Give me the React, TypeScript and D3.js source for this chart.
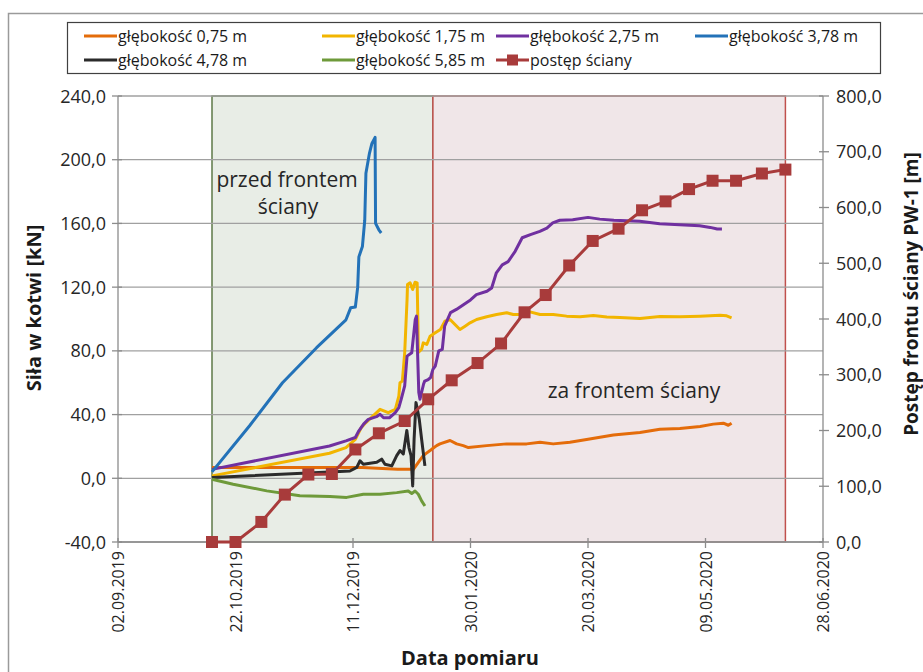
import React from "react";
import * as d3 from "d3";

// ---- DATA ----
// x positions: days since 02.09.2019 (measurement dates)
const START_DATE = "2019-09-02";
const xTickLabels = ["02.09.2019", "22.10.2019", "11.12.2019", "30.01.2020", "20.03.2020", "09.05.2020", "28.06.2020"];
const leftTicks = [-40, 0, 40, 80, 120, 160, 200, 240];
const rightTicks = [0, 100, 200, 300, 400, 500, 600, 700, 800];

const depth075: [number, number][] = [
  [40, 6.8], [97, 6.8], [104, 6.8], [119, 5.6], [125.7, 5.6], [127.8, 10], [129.9, 14.2], [131, 15.5], [132.8, 17.4],
  [134.2, 19], [135.6, 20.5], [137, 21.6], [141.3, 23.7], [144.1, 21.6], [146.9, 20.5], [149.1, 19.3], [156.9, 20.5],
  [165.4, 21.6], [173.9, 21.6], [179.6, 22.6], [185.2, 21.6], [192.3, 22.6], [199.4, 24.3], [205.1, 25.8], [210.8, 27.2],
  [222.1, 28.7], [230.6, 30.8], [239.1, 31.2], [247.7, 32.5], [253.3, 34], [257.6, 34.6], [259.7, 33.3], [261.1, 34.6],
];
const depth175: [number, number][] = [
  [40, 1.5], [90, 15.7], [97, 19.3], [101, 24.5], [103.5, 31.8], [105.5, 35], [111.5, 43.3], [115, 41.2], [118, 43.3],
  [119.5, 51.6], [120, 60], [121, 61], [122, 78.8], [123, 112], [123.2, 121.6], [124.3, 122.7], [125.4, 118.5],
  [126.4, 123.1], [127.3, 122.7], [127.6, 99.7], [127.8, 79], [129.2, 81], [129.9, 85], [131.4, 84], [132.8, 89.2],
  [135, 91.3], [137.2, 93.4], [139.1, 98.6], [141.3, 99.7], [143.4, 96.5], [145.5, 93.4], [147.7, 95.5], [149.8, 97.6],
  [152.6, 99.7], [156.9, 101.4], [161.1, 102.8], [165.4, 103.9], [168.2, 102.8], [171.1, 102.8], [175.3, 104.5],
  [179.6, 102.8], [185.2, 102.8], [190.9, 101.8], [196.6, 101.4], [202.3, 102.2], [208, 101.2], [213.6, 101],
  [222.1, 100.3], [230.6, 101.5], [239.1, 101.4], [247.7, 101.8], [256.2, 102.4], [259, 102], [261.1, 100.7],
];
const depth275: [number, number][] = [
  [40, 5.6], [90, 20.3], [97, 23.5], [101, 25.6], [102.5, 29.8], [104.5, 34], [106.5, 37], [110, 38.7], [111.5, 40.2],
  [113, 38], [115.5, 38], [118, 41.2], [119.5, 44.4], [120.5, 49.6], [122, 58], [123, 76.7], [125, 78.8], [126.5, 99.7],
  [127, 101.8], [128, 53.8], [128.5, 49.6], [130, 59], [130.5, 61], [132, 62], [133, 63.2], [134, 68.4], [135, 70.4],
  [136.5, 80], [138, 81], [139, 95.5], [141.5, 104], [144, 106], [147, 109], [150, 112], [152.5, 115.3], [157, 117.4],
  [159, 119.5], [161, 129], [163.5, 134], [166, 136], [169, 142.5], [172, 151], [175.5, 153], [179.5, 155], [182.5, 157],
  [185, 160.3], [188, 162], [193.5, 162.3], [200, 163.8], [205, 162.7], [211, 162], [222, 161.3], [230.5, 159.8],
  [239, 159.2], [247.5, 158.6], [252, 157.5], [255, 156.5], [257, 156.5],
];
const depth378: [number, number][] = [
  [40, 4], [56, 33], [70, 60], [84.5, 82], [97, 99.5], [99, 107], [101, 107.5], [102, 120], [102.5, 139], [104, 145.5],
  [105, 162], [105.5, 191.5], [107, 204], [108, 210], [109.4, 214], [109.6, 160], [111, 156], [112, 154],
];
const depth478: [number, number][] = [
  [40, 0.5], [90, 4], [98.7, 4.6], [101.6, 6.8], [103, 11], [104.4, 8.8], [107.2, 9.4], [110.1, 10], [112.2, 12],
  [113.6, 8.8], [116.5, 7.8], [118.6, 14.2], [120, 17.4], [121.4, 15.3], [122.9, 30], [123.8, 19.3], [124.7, 14.2],
  [125.4, -4.8], [126, 24.5], [126.8, 47.5], [127.4, 43.3], [128.2, 37], [129.2, 24.5], [130.6, 7.8],
];
const depth585: [number, number][] = [
  [40, -0.6], [49, -3.7], [63.3, -7.9], [77.4, -11], [90.2, -11.5], [97.3, -12], [104.4, -10], [111.5, -10],
  [118.6, -9], [123.5, -8], [125, -9.6], [126.4, -8], [127.8, -10], [129.2, -14.2], [130.6, -17.4],
];
const advanceDates = [
  "2019-10-12", "2019-10-22", "2019-11-02", "2019-11-12", "2019-11-22", "2019-12-02", "2019-12-12", "2019-12-22",
  "2020-01-02", "2020-01-12", "2020-01-22", "2020-02-02", "2020-02-12", "2020-02-22", "2020-03-02", "2020-03-12",
  "2020-03-22", "2020-04-02", "2020-04-12", "2020-04-22", "2020-05-02", "2020-05-12", "2020-05-22", "2020-06-02",
  "2020-06-12",
];
const advanceValues = [0, 0, 36, 85, 121, 122, 166, 195, 217, 256, 290, 321, 356, 412, 443, 496, 540, 562, 595, 611, 633, 648, 648, 661, 668];

const zoneBefore = ["2019-10-12", "2020-01-14"];
const zoneAfter = ["2020-01-14", "2020-06-12"];

const seriesNames = ["głębokość 0,75 m", "głębokość 1,75 m", "głębokość 2,75 m", "głębokość 3,78 m", "głębokość 4,78 m", "głębokość 5,85 m"];
const seriesColors = ["#E46C0A", "#F2B500", "#7030A0", "#2372B8", "#2B2B2B", "#6E9A3A"];
const advanceName = "postęp ściany";
const advanceColor = "#A83B3B";

// ---- LAYOUT ----
const W = 923, H = 672;
const L = 118, R = 823, T = 96, B = 542;

const parse = (s: string) => new Date(s + "T00:00:00Z");
const dayToDate = (d: number) => new Date(parse(START_DATE).getTime() + d * 86400000);
const fmt = (v: number) => d3.format(".1f")(v).replace(".", ",").replace("\u2212", "-");

export default function App() {
  const x = d3.scaleUtc().domain([parse(START_DATE), parse("2020-06-28")]).range([L, R]);
  const yL = d3.scaleLinear().domain([-40, 240]).range([B, T]);
  const yR = d3.scaleLinear().domain([0, 800]).range([B, T]);
  const xTicks = xTickLabels.map((_, i) => dayToDate(i * 50));

  const line = d3.line<[number, number]>().x((d) => x(dayToDate(d[0]))).y((d) => yL(d[1]));
  const advPts = advanceDates.map((d, i) => [x(parse(d)), yR(advanceValues[i])] as [number, number]);
  const advLine = d3.line()(advPts) || "";
  const series = [depth075, depth175, depth275, depth378, depth478, depth585];
  const drawOrder = [0, 1, 2, 3, 4, 5];

  const legendItems = [
    { name: seriesNames[0], color: seriesColors[0], x: 84, y: 36 },
    { name: seriesNames[1], color: seriesColors[1], x: 322, y: 36 },
    { name: seriesNames[2], color: seriesColors[2], x: 496, y: 36 },
    { name: seriesNames[3], color: seriesColors[3], x: 695, y: 36 },
    { name: seriesNames[4], color: seriesColors[4], x: 84, y: 60 },
    { name: seriesNames[5], color: seriesColors[5], x: 322, y: 60 },
    { name: advanceName, color: advanceColor, x: 496, y: 60, marker: true },
  ];

  const bx0 = x(parse(zoneBefore[0])), bx1 = x(parse(zoneBefore[1]));
  const ax0 = x(parse(zoneAfter[0])), ax1 = x(parse(zoneAfter[1]));
  const tickFont = "'Open Sans', sans-serif";

  return (
    <svg width={W} height={H} style={{ position: "absolute", left: 0, top: 0, background: "#fff" }} fontFamily={tickFont}>
      <rect x={8.5} y={13.5} width={1000} height={1000} fill="none" stroke="#9a9a9a" strokeWidth={1.5} />
      {/* legend */}
      <rect x={67.5} y={22.5} width={813} height={51} fill="#fff" stroke="#404040" strokeWidth={1.2} />
      {legendItems.map((it, i) => (
        <g key={i}>
          <line x1={it.x} x2={it.x + 33} y1={it.y} y2={it.y} stroke={it.color} strokeWidth={3} />
          {it.marker && <rect x={it.x + 11} y={it.y - 5.5} width={11} height={11} fill={it.color} />}
          <text x={it.x + 34} y={it.y + 5.5} fontSize={16} fill="#1a1a1a">{it.name}</text>
        </g>
      ))}
      {/* zones */}
      <rect x={bx0} y={T} width={bx1 - bx0} height={B - T} fill="#E8EDE6" stroke="#5E7A48" strokeWidth={1.5} />
      <rect x={ax0} y={T} width={ax1 - ax0} height={B - T} fill="#F0E6E8" stroke="#C0504D" strokeWidth={1.5} />
      {/* gridlines */}
      {leftTicks.map((t) => (
        <line key={t} x1={L} x2={R} y1={yL(t)} y2={yL(t)} stroke="#A0A0A0" strokeWidth={1.3} />
      ))}
      {/* axes */}
      <line x1={L} x2={L} y1={T} y2={B} stroke="#8c8c8c" strokeWidth={1.3} />
      <line x1={R} x2={R} y1={T} y2={B} stroke="#8c8c8c" strokeWidth={1.3} />
      <line x1={L} x2={R} y1={B} y2={B} stroke="#8c8c8c" strokeWidth={1.3} />
      {leftTicks.map((t) => (
        <g key={"l" + t}>
          <line x1={L - 6} x2={L + 4} y1={yL(t)} y2={yL(t)} stroke="#8c8c8c" strokeWidth={1.3} />
          <text x={L - 12} y={yL(t) + 6.5} textAnchor="end" fontSize={18} fill="#262626">{fmt(t)}</text>
        </g>
      ))}
      {rightTicks.map((t) => (
        <g key={"r" + t}>
          <line x1={R - 4} x2={R + 6} y1={yR(t)} y2={yR(t)} stroke="#8c8c8c" strokeWidth={1.3} />
          <text x={R + 13} y={yR(t) + 6.5} textAnchor="start" fontSize={18} fill="#262626">{fmt(t)}</text>
        </g>
      ))}
      {xTicks.map((d, i) => (
        <g key={"x" + i}>
          <line x1={x(d)} x2={x(d)} y1={B - 4} y2={B + 6} stroke="#8c8c8c" strokeWidth={1.3} />
          <text transform={`translate(${x(d) + 6},${B + 9}) rotate(-90)`} textAnchor="end" fontSize={16} fill="#262626">
            {xTickLabels[i]}
          </text>
        </g>
      ))}
      {/* annotations */}
      <text x={287} y={187} textAnchor="middle" fontSize={21} fill="#262626">przed frontem</text>
      <text x={288} y={214} textAnchor="middle" fontSize={21} fill="#262626">ściany</text>
      <text x={634} y={398} textAnchor="middle" fontSize={21} fill="#262626">za frontem ściany</text>
      {/* series */}
      {drawOrder.map((i) => (
        <path key={"s" + i} d={line(series[i]) || ""} fill="none" stroke={seriesColors[i]} strokeWidth={3} strokeLinejoin="round" />
      ))}
      <path d={advLine} fill="none" stroke={advanceColor} strokeWidth={3} />
      {advPts.map((p, i) => (
        <rect key={"m" + i} x={p[0] - 6} y={p[1] - 6} width={12} height={12} fill={advanceColor} />
      ))}
      {/* axis titles */}
      <text transform={`translate(41,308) rotate(-90)`} textAnchor="middle" fontSize={20} fontWeight="bold" fill="#1a1a1a">
        Siła w kotwi [kN]
      </text>
      <text transform={`translate(918,294) rotate(-90)`} textAnchor="middle" fontSize={19} fontWeight="bold" fill="#1a1a1a">
        Postęp frontu ściany PW-1 [m]
      </text>
      <text x={470} y={665} textAnchor="middle" fontSize={20} fontWeight="bold" fill="#1a1a1a">Data pomiaru</text>
    </svg>
  );
}
